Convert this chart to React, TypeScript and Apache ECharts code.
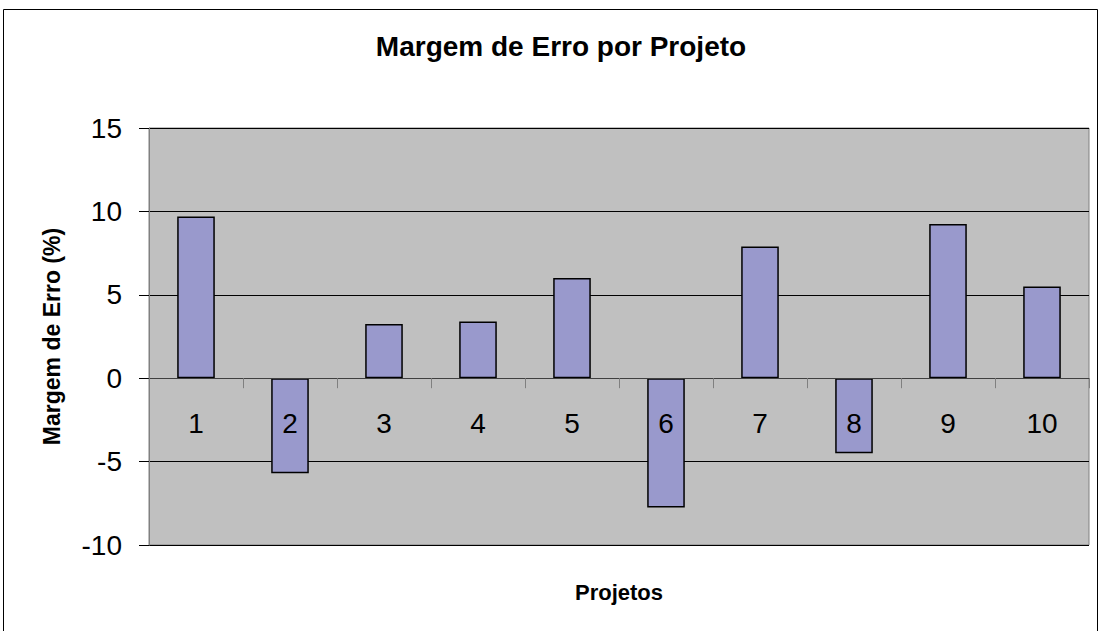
import React, { useEffect, useRef } from "react";
import * as echarts from "echarts";

const categories = ["1", "2", "3", "4", "5", "6", "7", "8", "9", "10"];
const values = [9.7, -5.7, 3.25, 3.4, 6.0, -7.75, 7.9, -4.5, 9.25, 5.5];
const yTicks = { min: -10, max: 15, interval: 5 };
const titleText = "Margem de Erro por Projeto";
const xName = "Projetos";
const yName = "Margem de Erro (%)";

export default function App() {
  const ref = useRef<HTMLDivElement>(null);
  useEffect(() => {
    document.body.style.margin = "0";
    const chart = echarts.init(ref.current!, undefined, { renderer: "svg" });
    const font = "Liberation Sans, Arial, sans-serif";
    const H = 631;
    const gridBottom = 86;
    chart.setOption({
      animation: false,
      backgroundColor: "#ffffff",
      title: {
        text: titleText,
        left: 561,
        textAlign: "center",
        top: 32,
        padding: 0,
        textStyle: { fontFamily: font, fontSize: 28, fontWeight: "bold", color: "#000" },
      },
      graphic: [
        {
          type: "rect",
          shape: { x: 3.5, y: 9.5, width: 1094, height: 640 },
          style: { fill: "none", stroke: "#000", lineWidth: 1 },
          silent: true,
        },
      ],
      grid: {
        left: 149,
        right: 12,
        top: 128,
        bottom: gridBottom,
        containLabel: false,
        outerBoundsMode: "none",
        show: true,
        backgroundColor: "#C0C0C0",
        borderColor: "#808080",
        borderWidth: 1,
      },
      xAxis: {
        type: "category",
        data: categories,
        z: 10,
        name: xName,
        nameLocation: "middle",
        nameGap: 203,
        nameTextStyle: { fontFamily: font, fontSize: 22, fontWeight: "bold", color: "#000" },
        axisLine: { onZero: false, lineStyle: { color: "#404040", width: 1 } },
        axisTick: { show: true, length: 10, lineStyle: { color: "#808080" }, alignWithLabel: false },
        axisLabel: { fontFamily: font, fontSize: 28, color: "#000", margin: 31 },
        splitLine: { show: false },
      },
      yAxis: {
        type: "value",
        min: yTicks.min,
        max: yTicks.max,
        interval: yTicks.interval,
        name: yName,
        nameLocation: "middle",
        nameGap: 86,
        nameTextStyle: { fontFamily: font, fontSize: 23, fontWeight: "bold", color: "#000" },
        axisLine: { show: true, lineStyle: { color: "#808080", width: 1 } },
        axisTick: { show: true, length: 10, lineStyle: { color: "#000" } },
        axisLabel: { fontFamily: font, fontSize: 28, color: "#000", margin: 27 },
        splitLine: { show: true, lineStyle: { color: "#000", width: 1 } },
      },
      series: [
        {
          type: "bar",
          data: values,
          barWidth: "40%",
          itemStyle: { color: "#9999CC", borderColor: "#000", borderWidth: 1.5 },
        },
      ],
    });
    // move the category axis (line, ticks, labels) to the zero of the value axis
    const zeroY = chart.convertToPixel({ yAxisIndex: 0 }, 0) as number;
    const offset = zeroY - (H - gridBottom);
    chart.setOption({ xAxis: { offset } });
    return () => chart.dispose();
  }, []);
  return <div ref={ref} style={{ width: 1101, height: 631 }} />;
}
